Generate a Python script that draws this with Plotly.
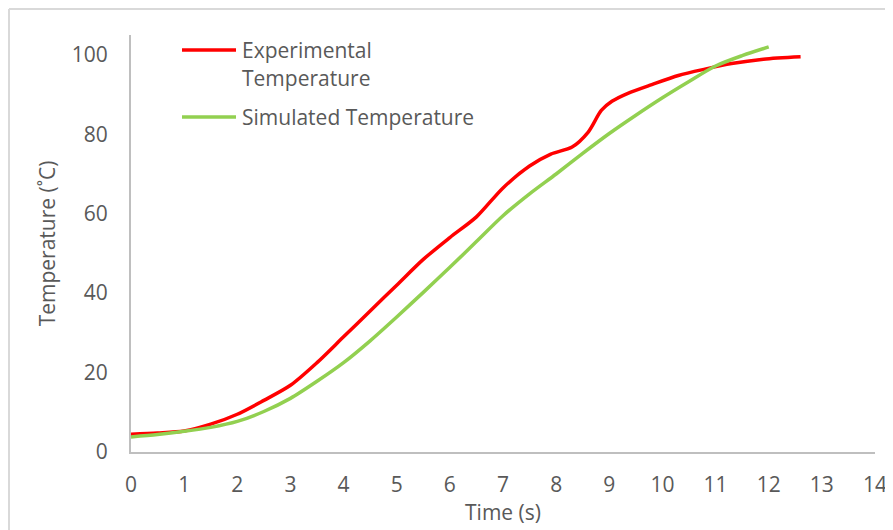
import plotly.graph_objects as go

exp_time = [0, 0.5, 1, 1.5, 2, 2.5, 3, 3.5, 4, 4.5, 5, 5.5, 6, 6.5, 7, 7.5, 7.9, 8.3, 8.6, 8.85, 9.05, 9.35, 9.8, 10.3, 10.8, 11.3, 11.9, 12.6]
exp_temp = [4.5, 4.8, 5.3, 7.0, 9.5, 13.0, 16.8, 22.5, 29.0, 35.5, 42.0, 48.5, 54.0, 59.2, 66.5, 72.0, 75.0, 76.8, 80.5, 86.0, 88.3, 90.3, 92.5, 94.8, 96.4, 97.8, 98.9, 99.5]

sim_time = [0, 0.5, 1, 1.5, 2, 2.5, 3, 3.5, 4, 4.5, 5, 5.5, 6, 6.5, 7, 7.5, 8, 8.5, 9, 9.5, 10, 10.5, 11, 11.5, 12]
sim_temp = [3.8, 4.4, 5.2, 6.2, 7.7, 10.2, 13.5, 17.8, 22.5, 28.0, 34.0, 40.2, 46.5, 53.0, 59.5, 65.0, 70.0, 75.2, 80.2, 84.8, 89.2, 93.3, 97.2, 99.8, 102.0]

x_ticks = list(range(0, 15))
y_ticks = [0, 20, 40, 60, 80, 100]

series_names = ["Experimental<br>Temperature", "Simulated Temperature"]
series_colors = ["#FF0000", "#92D050"]

FONT = "Open Sans"
FS = 21
GRAY = "#595959"
AXIS = "#BFBFBF"

fig = go.Figure()
fig.add_trace(go.Scatter(x=exp_time, y=exp_temp, mode="lines", name=series_names[0], showlegend=False,
                         line=dict(color=series_colors[0], width=3.5, shape="spline", smoothing=0.8)))
fig.add_trace(go.Scatter(x=sim_time, y=sim_temp, mode="lines", name=series_names[1], showlegend=False,
                         line=dict(color=series_colors[1], width=3.5, shape="spline", smoothing=0.8)))

# page has an 8px body margin; plot area in page pixels: x 131->875, y 452->35
PW, PH = 744.0, 417.0
def px(x):
    return (x - 131) / PW
def py(y):
    return (452 - y) / PH

shapes = []
annotations = []
legend_rows = [(50, ["Experimental", "Temperature"]), (117, ["Simulated Temperature"])]
for (yrow, lines), color in zip(legend_rows, series_colors):
    shapes.append(dict(type="line", xref="paper", yref="paper", x0=px(182), x1=px(236), y0=py(yrow), y1=py(yrow),
                       line=dict(color=color, width=3.5)))
    for i, t in enumerate(lines):
        annotations.append(dict(text=t, xref="paper", yref="paper", x=px(240), y=py(yrow + 28 * i),
                                xanchor="left", yanchor="middle", showarrow=False,
                                font=dict(family=FONT, size=FS, color=GRAY)))

# chart border (top and left visible)
shapes.append(dict(type="line", xref="paper", yref="paper", x0=px(9), x1=px(900), y0=py(9), y1=py(9),
                   line=dict(color="#D9D9D9", width=2)))
shapes.append(dict(type="line", xref="paper", yref="paper", x0=px(9), x1=px(9), y0=py(9), y1=py(540),
                   line=dict(color="#D9D9D9", width=2)))

fig.update_layout(
    width=885, height=522,
    margin=dict(l=123, r=18, t=27, b=78, autoexpand=False),
    paper_bgcolor="white", plot_bgcolor="white",
    font=dict(family=FONT, size=FS, color=GRAY),
    showlegend=False,
    xaxis=dict(range=[0, 14], tickvals=x_ticks, ticktext=[str(v) for v in x_ticks], automargin=False,
               showgrid=False, zeroline=False, showline=True, linecolor=AXIS, linewidth=2,
               ticks="outside", ticklen=13, tickcolor="rgba(0,0,0,0)",
               tickfont=dict(family=FONT, size=FS, color=GRAY),
               title=dict(text="Time (s)", font=dict(family=FONT, size=FS, color=GRAY), standoff=4)),
    yaxis=dict(range=[0, 105], tickvals=y_ticks, ticktext=[str(v) for v in y_ticks], automargin=False,
               showgrid=False, zeroline=False, showline=True, linecolor=AXIS, linewidth=2,
               ticks="outside", ticklen=17, tickcolor="rgba(0,0,0,0)",
               tickfont=dict(family=FONT, size=FS, color=GRAY),
               title=dict(text="Temperature (˚C)", font=dict(family=FONT, size=FS, color=GRAY), standoff=10)),
    shapes=shapes,
    annotations=annotations,
)

fig.write_html("out.html")
